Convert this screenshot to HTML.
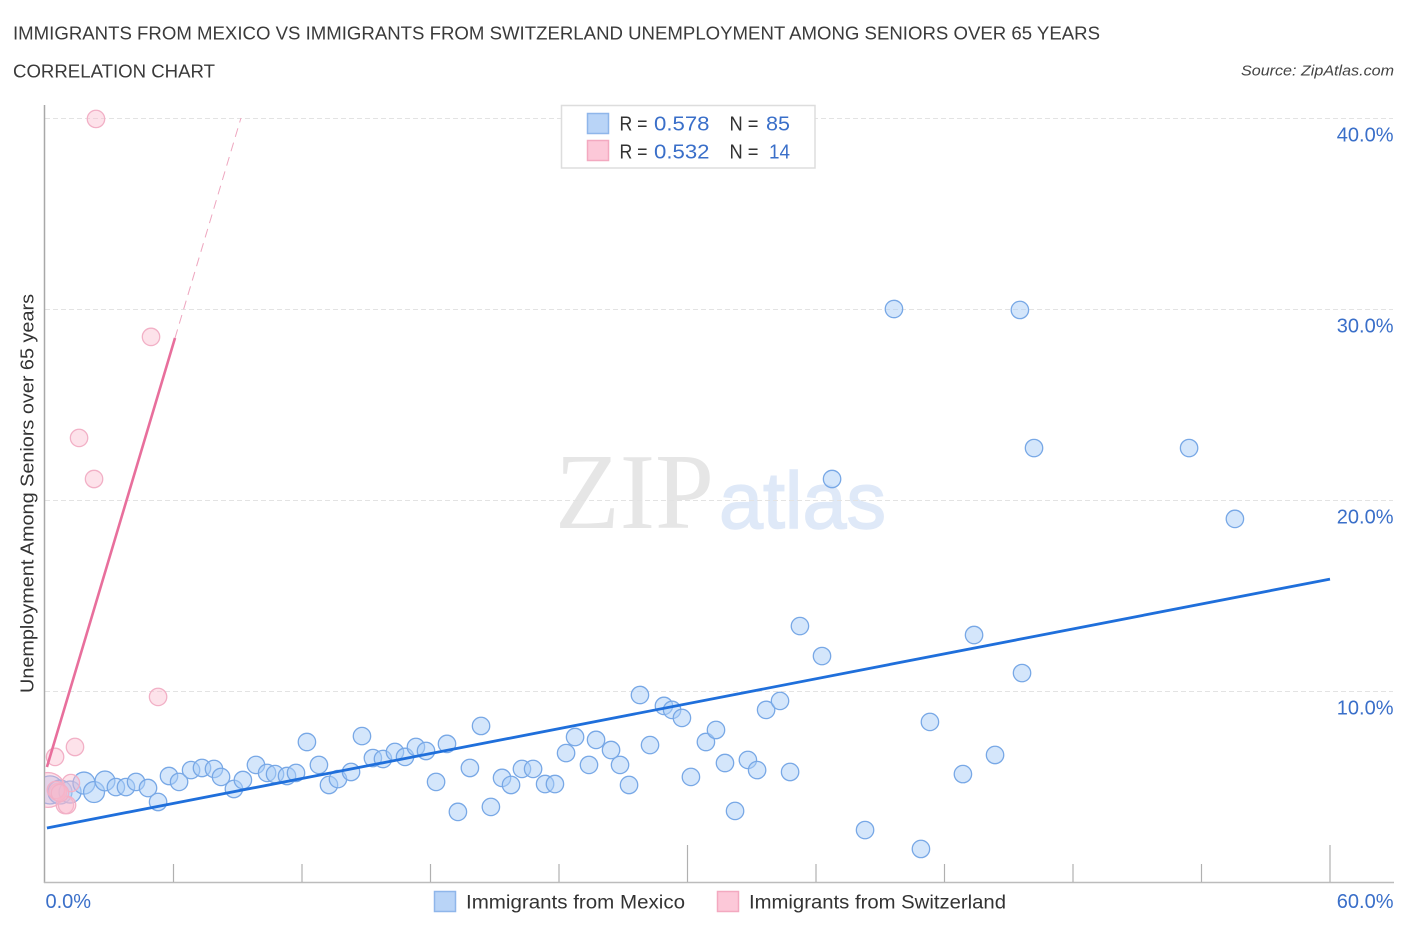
<!DOCTYPE html>
<html lang="en">
<head>
<meta charset="utf-8">
<title>Immigrants from Mexico vs Immigrants from Switzerland Correlation Chart</title>
<style>
html,body{margin:0;padding:0;background:#fff;width:1406px;height:930px;overflow:hidden}
svg{display:block}
text{font-family:"Liberation Sans",sans-serif}
</style>
</head>
<body>
<svg id="chart" xmlns="http://www.w3.org/2000/svg" width="1406" height="930" viewBox="0 0 1406 930">
  <defs>
    <clipPath id="plot-clip"><rect x="45" y="100" width="1350" height="783"/></clipPath>
  </defs>
  <rect x="0" y="0" width="1406" height="930" fill="#ffffff"/>
  <text x="13" y="39.5" font-size="18" fill="#3a3a3a" textLength="1087" lengthAdjust="spacingAndGlyphs">IMMIGRANTS FROM MEXICO VS IMMIGRANTS FROM SWITZERLAND UNEMPLOYMENT AMONG SENIORS OVER 65 YEARS</text>
  <text x="13" y="77.5" font-size="18" fill="#3a3a3a" textLength="202" lengthAdjust="spacingAndGlyphs">CORRELATION CHART</text>
  <text x="1241" y="75.5" font-size="15" font-style="italic" fill="#444444" textLength="153" lengthAdjust="spacingAndGlyphs">Source: ZipAtlas.com</text>

  <g>
    <text x="555" y="528" style="font-family:'Liberation Serif',serif" font-size="108" fill="#e6e6e6" textLength="159" lengthAdjust="spacingAndGlyphs">ZIP</text>
    <text x="719" y="528" font-size="80" fill="#dfe9f8" stroke="#dfe9f8" stroke-width="1.5" textLength="167" lengthAdjust="spacingAndGlyphs">atlas</text>
  </g>

  <g id="grid"></g>
  <g id="axes"></g>
  <g id="blue-points" clip-path="url(#plot-clip)"></g>
  <g id="pink-points" clip-path="url(#plot-clip)"></g>
  <g id="trends"></g>

  <text transform="translate(33.5,693) rotate(-90)" x="0" y="0" font-size="18" fill="#333333" textLength="399" lengthAdjust="spacingAndGlyphs">Unemployment Among Seniors over 65 years</text>

  <g>
    <rect x="561.5" y="105.5" width="253.5" height="62.5" fill="#ffffff" stroke="#dddddd" stroke-width="1.5"/>
    <rect x="587.5" y="113.5" width="21" height="20" fill="#b9d4f7" stroke="#8fb6ea" stroke-width="1.5"/>
    <text x="619.5" y="130.5" font-size="20" fill="#333333" textLength="28" lengthAdjust="spacingAndGlyphs">R =</text>
    <text x="654" y="130.5" font-size="20" fill="#3a6fc9" textLength="55.5" lengthAdjust="spacingAndGlyphs">0.578</text>
    <text x="729.5" y="130.5" font-size="20" fill="#333333" textLength="29" lengthAdjust="spacingAndGlyphs">N =</text>
    <text x="766" y="130.5" font-size="20" fill="#3a6fc9" textLength="24" lengthAdjust="spacingAndGlyphs">85</text>
    <rect x="587.5" y="140.5" width="21" height="20" fill="#fcc8d8" stroke="#f3a9c0" stroke-width="1.5"/>
    <text x="619.5" y="158.5" font-size="20" fill="#333333" textLength="28" lengthAdjust="spacingAndGlyphs">R =</text>
    <text x="654" y="158.5" font-size="20" fill="#3a6fc9" textLength="55.5" lengthAdjust="spacingAndGlyphs">0.532</text>
    <text x="729.5" y="158.5" font-size="20" fill="#333333" textLength="29" lengthAdjust="spacingAndGlyphs">N =</text>
    <text x="769" y="158.5" font-size="20" fill="#3a6fc9" textLength="21" lengthAdjust="spacingAndGlyphs">14</text>
  </g>

  <g>
    <rect x="434.5" y="891.5" width="21" height="20" fill="#b9d4f7" stroke="#8fb6ea" stroke-width="1.5"/>
    <text x="466" y="908.5" font-size="19" fill="#333333" textLength="219" lengthAdjust="spacingAndGlyphs">Immigrants from Mexico</text>
    <rect x="717.5" y="891.5" width="21" height="20" fill="#fcc8d8" stroke="#f3a9c0" stroke-width="1.5"/>
    <text x="749" y="908.5" font-size="19" fill="#333333" textLength="257" lengthAdjust="spacingAndGlyphs">Immigrants from Switzerland</text>
  </g>
</svg>

<script>
const xTickValues = [0, 6, 12, 18, 24, 30, 36, 42, 48, 54, 60];
const xMajorTicks = [30, 60];
const xLabelValues = [0, 60];
const xLabelText = ['0.0%', '60.0%'];
const yTickValues = [10, 20, 30, 40];
const yTickLabels = ['10.0%', '20.0%', '30.0%', '40.0%'];

const mexicoX = [0.23,0.70,1.17,1.82,2.29,2.80,3.31,3.78,4.25,4.81,
  5.28,5.79,6.26,6.82,7.33,7.89,8.22,8.82,9.24,9.85,
  10.37,10.74,11.30,11.72,12.23,12.79,13.26,13.68,14.29,14.80,
  15.31,15.78,16.34,16.81,17.32,17.79,18.26,18.77,19.28,19.84,
  20.36,20.82,21.34,21.76,22.27,22.79,23.35,23.81,24.33,24.75,
  25.40,25.73,26.43,26.85,27.27,27.78,28.25,28.90,29.28,29.74,
  30.16,30.86,31.33,31.75,32.22,32.82,33.25,33.67,34.32,34.79,
  35.25,36.28,36.75,38.29,39.64,40.90,41.32,42.86,43.38,44.36,
  45.52,45.62,46.18,53.42,55.56];
const mexicoY = [4.82,4.71,4.71,5.18,4.71,5.29,4.97,4.97,5.24,4.92,
  4.19,5.55,5.24,5.86,5.97,5.92,5.50,4.87,5.34,6.13,
  5.71,5.65,5.55,5.71,7.33,6.13,5.08,5.39,5.76,7.64,
  6.49,6.44,6.81,6.55,7.07,6.86,5.24,7.23,3.67,5.97,
  8.17,3.93,5.45,5.08,5.92,5.92,5.13,5.13,6.75,7.59,
  6.13,7.44,6.91,6.13,5.08,9.79,7.17,9.22,9.01,8.59,
  5.50,7.33,7.96,6.23,3.72,6.39,5.86,9.01,9.48,5.76,
  13.40,11.83,21.10,2.72,30.00,1.73,8.38,5.65,12.93,6.65,
  29.95,10.94,22.72,22.72,19.01];
const mexicoWeight = [2.6,1.9,1.6,1.6,1.45,1.3,1,1,1,1,
  1,1,1,1,1,1,1,1,1,1,
  1,1,1,1,1,1,1,1,1,1,
  1,1,1,1,1,1,1,1,1,1,
  1,1,1,1,1,1,1,1,1,1,
  1,1,1,1,1,1,1,1,1,1,
  1,1,1,1,1,1,1,1,1,1,
  1,1,1,1,1,1,1,1,1,1,
  1,1,1,1,1];

const swissX = [2.38,4.95,1.59,2.29,5.28,1.40,0.47,0.14,1.21,0.93,1.03,0.61,0.51,0.70];
const swissY = [39.95,28.54,23.25,21.10,9.69,7.07,6.55,4.82,5.18,4.03,4.03,4.71,4.82,4.66];
const swissWeight = [1,1,1,1,1,1,1,4,1,1,1,1,1,1];

const mexicoTrendX = [0.09, 60];
const mexicoTrendY = [2.83, 15.86];
const swissTrendX = [0.09, 6.07];
const swissTrendY = [6.02, 28.48];
const swissDashX = [6.07, 9.15];
const swissDashY = [28.48, 40];

const NS = 'http://www.w3.org/2000/svg';
function xScale(v) { return 45 + v * 1285 / 60; }
function yScale(v) { return 882 - v * 19.1; }
function rScale(w) { return 8.7 * Math.sqrt(w); }
function make(tag, attrs, parent) {
  const el = document.createElementNS(NS, tag);
  for (const k in attrs) el.setAttribute(k, attrs[k]);
  parent.appendChild(el);
  return el;
}

const gridG = document.getElementById('grid');
const axesG = document.getElementById('axes');
const blueG = document.getElementById('blue-points');
const pinkG = document.getElementById('pink-points');
const trendG = document.getElementById('trends');

yTickValues.forEach(function (v, i) {
  const line = make('line', {x1: 45, x2: 1393, y1: yScale(v) + 0.5, y2: yScale(v) + 0.5, stroke: '#e3e3e3', 'stroke-width': 1, 'stroke-dasharray': '5 3'}, gridG);
  
  
  const label = make('text', {x: 1393.5, y: yScale(v) + 23.5, 'text-anchor': 'end', 'font-size': 20, fill: '#3a6fc9'}, axesG);
  
  
  label.textContent = yTickLabels[i];
});

const yAxis = make('line', {x1: 44.5, x2: 44.5, y1: 105, y2: 883, stroke: '#a8a8a8', 'stroke-width': 1.5}, axesG);


const xAxis = make('line', {x1: 44, x2: 1394, y1: 882.5, y2: 882.5, stroke: '#bcbcbc', 'stroke-width': 1.5}, axesG);



xTickValues.slice(1).forEach(function (v) {
  const top = xMajorTicks.indexOf(v) >= 0 ? 845 : 864;
  const tick = make('line', {x1: xScale(v), x2: xScale(v), y1: top, y2: 882, stroke: '#b0b0b0', 'stroke-width': 1.2}, axesG);
  
  
});

xLabelValues.forEach(function (v, i) {
  const attrs = v === 0
    ? {x: xScale(v) + 0.5, y: 908, 'font-size': 20, fill: '#3a6fc9'}
    : {x: 1393.5, y: 908, 'text-anchor': 'end', 'font-size': 20, fill: '#3a6fc9'};
  const label = make('text', attrs, axesG);
  
  
  label.textContent = xLabelText[i];
});

mexicoX.forEach(function (v, i) {
  const c = make('circle', {cx: xScale(v), cy: yScale(mexicoY[i]), r: rScale(mexicoWeight[i]), fill: 'rgba(170,205,247,0.5)', stroke: '#78a8e6', 'stroke-width': 1.3}, blueG);
  
  
});

swissX.forEach(function (v, i) {
  const c = make('circle', {cx: xScale(v), cy: yScale(swissY[i]), r: rScale(swissWeight[i]), fill: 'rgba(250,185,205,0.42)', stroke: '#f2b0c6', 'stroke-width': 1.3}, pinkG);
  
  
});

const dash = make('line', {x1: xScale(swissDashX[0]), y1: yScale(swissDashY[0]), x2: xScale(swissDashX[1]), y2: yScale(swissDashY[1]), stroke: '#eea6bf', 'stroke-width': 1, 'stroke-dasharray': '9 6'}, trendG);


const swissLine = make('line', {x1: xScale(swissTrendX[0]), y1: yScale(swissTrendY[0]), x2: xScale(swissTrendX[1]), y2: yScale(swissTrendY[1]), stroke: '#e86f9c', 'stroke-width': 2.6}, trendG);


const mexicoLine = make('line', {x1: xScale(mexicoTrendX[0]), y1: yScale(mexicoTrendY[0]), x2: xScale(mexicoTrendX[1]), y2: yScale(mexicoTrendY[1]), stroke: '#1f6fdb', 'stroke-width': 2.8}, trendG);


</script>
</body>
</html>
